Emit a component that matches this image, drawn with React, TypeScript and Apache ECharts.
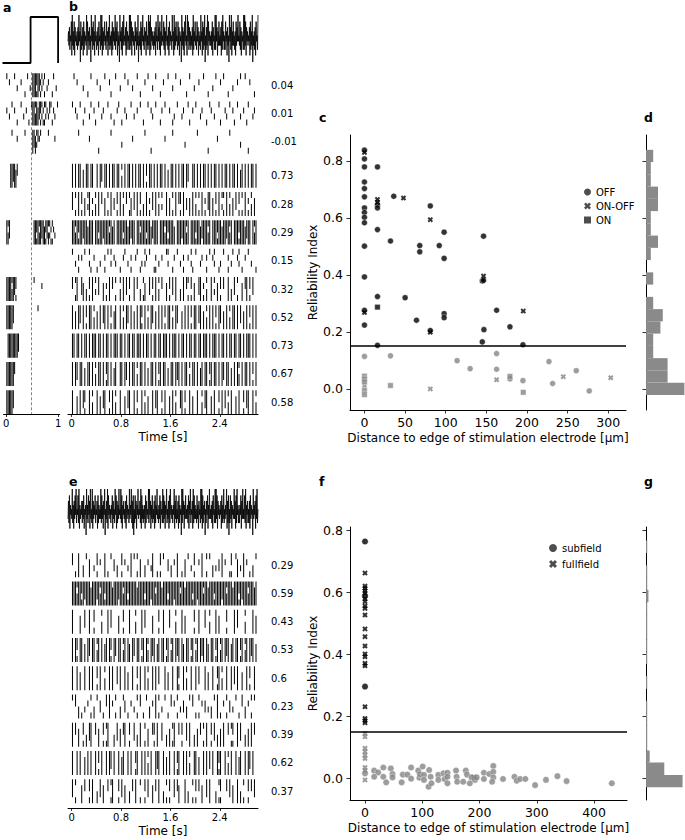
import React, { useEffect, useRef } from "react";
import * as echarts from "echarts";

const FONT = "DejaVu Sans";
const GREY = "#858585";
const HIST = "#8a8a8a";
const THRESH = 0.15;
const XPATH = "path://M0,2.6L2.6,0L5,2.4L7.4,0L10,2.6L7.6,5L10,7.4L7.4,10L5,7.6L2.6,10L0,7.4L2.4,5Z";

// ---------------- panel a: step stimulus ----------------
const stepTimes = [-0.05, 0.48, 0.48, 1.0, 1.0];
const stepLevels = [0, 0, 1, 1, 0];
const onsetTime = 0.48;

// ---------------- stimulus traces (digit 0..9 = amplitude level) ----------------
const traceLevels = [-1, -0.72, -0.48, -0.3, -0.12, 0.12, 0.3, 0.48, 0.72, 1];
const stimTraceB =
  "4637254819 3628174536 2739460825 3718264539 1846273509 4728361945 2637184529 3917264835 2846173925 3618274639 " +
  "2748163509 4627183945 3718264529 2938174635 1847263905 3628174935 2746183529 3819274635 2637184529 4728163945 " +
  "3827164935 2718364529 4619273845 2837164509 3726184935 1948273625 3719264835 2847163529 4618273905 2739184635 " +
  "3628174529 2947163835 3718294625 2846173509 4729163835 2618374945 3827164529 2938174635 4718263905 3627184529";
const stimTraceE =
  "3728164539 2617384925 4829163547 2738154609 3628471935 2917364825 4718263539 2836174905 3729184635 2648173529 " +
  "4817263945 3928164735 2718364529 3649271805 2837164935 4729183625 3618274539 2947163825 3718264935 2638174529 " +
  "2837164925 3718294635 2649173825 3718264509 2947163835 3628174925 4719283635 2836174529 3918264705 2748163935 " +
  "3627184529 2938174635 4718263925 3649172805 2837164539 3718294625 2648173935 3829164725 2718364509 3647183925";

// ---------------- raster rows (hex digit per bin = trials with a spike, 4 trials) ----------------
const rasterRowsA = [
  "1020001040 0200801040 fffbf7a529 0420081040",
  "2040102080 0104020801 ffdfe7b5a9 5243182401",
  "0000100020 0000100000 f7e5321000 0010000200",
  "000ff7fe30 0000000000 0000000000 0000000000",
  "0000000000 0000000000 0000000000 0000000000",
  "fd70000000 0000000000 0ffbfdf7fe b7d5a92400",
  "0000000000 0000000000 0000000000 0000000000",
  "ffffdf7b00 0000000000 0100000200 0000000000",
  "fffff70000 0000000000 0000100000 0000000000",
  "0ffffffff7 0000000000 0000000000 0000000000",
  "ffffff3000 0000000000 0000000000 0000000000",
  "fffff70000 0000000000 0000000000 0000000000",
];

const reliabilityB = ["0.04", "0.01", "-0.01", "0.73", "0.28", "0.29", "0.15", "0.32", "0.52", "0.73", "0.67", "0.58"];
const rasterRowsB = [
  "0102000400 8010002040 0100280010 0400102004 0010800201 0040100802 0010040100 2000801004 0020010080 0401002010 0800400201 0010020080",
  "1024010820 0410280104 2001040802 1080240010 4020108001 0240100820 1002084010 0420018020 1004200801 2040018002 4010280104 0208100420",
  "0000100000 0200000800 0000010000 0040000002 0000000100 0800000000 2000010000 0004000000 0100000080 0000200000 0010000004 0000800000",
  "f0f0ff0e0f f0ff00f0f7 0ff0f0ff0f f0d0f0ff0f 0f0ff0f0b0 ff0f0f0ff0 f0e0ff0f0f 0ff0f700ff 0f0f0ff0f0 f0ff0f0f0f f0f0ff0f0e f0f0f0ff0f",
  "7090f0b0e0 5f0a0d0f03 0e090f060b 0f0d0309e0 70f0b0c0f0 a070f0d050 0f0e090f03 b0f060e0f0 d090f0a07f 0e0b0f0590 f0d0e070b0 90f0a0d0e0",
  "ffdfbff7ff efff0ffbff 7fffdfef0f fffbffef7f f0ffdfffbf fe7fff0fff dfbfffe0ff f7ffdf0fff bffe7fffdf 0fffbffeff 7fdf0fffbf ffe7ff0fdf",
  "1040a02010 0580208040 0a01050240 08021040a0 0210840520 1008a04020 0150082010 40a0020580 1004200a01 0250084010 0a04100250 8020104008",
  "309f007e0c 0b0f050700 e0a0f03090 0d0f070b00 f030c09e00 70b0f0d030 0e0b070f00 c0f0390b0e 007f0a0d00 f050e0b030 0f0c070900 e03f0b0700",
  "f0e0f70f0b 0ff0d0e0f0 7f0f0b0ef0 0f0d0f70f0 e0f0fb0f0d 0f70e0f0f0 b0ff0d0f70 0e0f0f0b0f f07f0e0d0f 0f0b0f70e0 f0d0ff0f07 0e0f0b0f0f",
  "ff0ff0f0ff 0f0fff0ff0 f0ff0f0fff 0ff0f0ff0f f0fff0f0ff 0f0ff0ff0f ff0f0fff0f 0ff0f0ff0f f0ff0fff0f 0fff0f0ff0 f0ff0ff0ff 0f0fff0f0f",
  "f0f70ff0e0 ff0f0d0ff0 f0bf0f0ef0 0ff0f70f0f f0d0ff0f0e 0ff0f0bf0f f0e0ff0f7f 0f0ff0d0ff 0f0ef0ff0b f0ff0f0f70 ff0e0f0fd0 f0ff0f0b0f",
  "f00e0f07b0 0f0d00f0e0 7f00b0f0d0 0f00e07f00 f0b00f0d0e 00f07f00b0 f00e0f0d00 7f0b00f0e0 0f00d07f00 e0f00b0f07 0d0f00e0f0 0b07f00f0d",
];

const reliabilityE = ["0.29", "0.59", "0.43", "0.53", "0.6", "0.23", "0.39", "0.62", "0.37"];
const rasterRowsE = [
  "3080f00c01 0e0040b020 0f0801060c 00b02040f0 1090e00c02 04f0080b01 0060c020f0 080e01040b 0020f00901 0c04060f02 008b001e04 0f02080c01",
  "fffdffbf7f ffefff7fdf fbffffefff 7ffdffbfff ffeffffbff f7ffdfffef ffbfff7fff dffeffffbf f7fffdffef ffbffff7ff dfffefffbf 7fffdfffef",
  "f0000e0070 0f00b0000d 000f070000 e00b000f00 0d000f0700 00e000b00f 0007000d00 0f0e00000b 00f000700d 000f0e0000 b0000f0700 00d0000f0e",
  "f0fb0ff0e0 f70ff0df0f 0ef0fb0f70 ff0df0fe0f 70ff0bf0fd 0f7f0ef0ff 0bf0df0f7f 0fe0ff0bf0 df0f7f0fe0 ff0bf0df0f 7f0ef0ff0b f0df0f7f0e",
  "f00f0e00f0 0f0f00b0f0 0d00f0f007 0f00f0e00f 00b0f00f0d 00f0f07000 f0e00f00fb 00f0d00f00 f07000f0e0 0f00bf0d00 f00f070f00 e00f0b00f0",
  "1030c08040 2090c01060 8030f02090 0c01608020 4090308010 c020f09040 1080302090 4060c01030 8090206040 c010f08020 9060401080 30c0209010",
  "f030e00b0c 07f0030e00 b09f000c07 0e03f00b00 70c0f0090e 003b0f0070 0c0e09f003 0b0070f00c 0e03090f00 b070c0e0f0 0309b00f07 00c0e0f030",
  "f00f0f00e0 f0f00f0b0f 00f0f70f00 f0ef00f0f0 0bf00f0f0d 0f00f7f00f 0e0f00f0bf 00f0f0d00f f0e00f0f07 0f00fbf00f 0d0f00f0ef 00f0f70f00",
  "709000e030 0b0f00c070 e00309f000 b070e00c03 0f00900b07 00e030f00c 090b00703e 000f0c0090 b030e0070f 000c09b000 3070e00f0c 0900b03070",
];

// ---------------- panel c scatter (distance um, reliability) ----------------
const offPoints = [
  [0, 0.838], [0, 0.807], [0, 0.779], [0, 0.726], [0, 0.703], [0, 0.674], [0, 0.635], [0, 0.619], [0, 0.602], [0, 0.583],
  [0, 0.501], [0, 0.393], [0, 0.276], [0, 0.224], [0, 0.114],
  [16, 0.779], [16, 0.646], [16, 0.635], [16, 0.559], [16, 0.324], [16, 0.153],
  [32, 0.519], [32, 0.116], [36, 0.676], [50, 0.32], [64, 0.241], [68, 0.503], [68, 0.481],
  [81, 0.642], [81, 0.205], [92, 0.503], [98, 0.55], [98, 0.458], [98, 0.264], [98, 0.25],
  [114, 0.099], [130, 0.071], [145, 0.379], [145, 0.165], [146.5, 0.536], [146.5, 0.381], [147, 0.208],
  [162.6, 0.276], [162.6, 0.124], [162.6, 0.069], [179, 0.218], [179, 0.035], [195, 0.155], [195, 0.029],
  [227, 0.096], [231.5, 0.019], [260.6, 0.064], [276.6, -0.007],
];
const onOffPoints = [
  [0, 0.83], [0, 0.268], [16, 0.665], [16, 0.655], [48, 0.67], [81, 0.594], [81, 0.199], [146.5, 0.396], [195.4, 0.273],
  [0, 0.011], [81, 0.0], [162.6, 0.032], [244.6, 0.043], [303, 0.039],
];
const onPoints = [
  [16, 0.287], [0, 0.045], [0, 0.035], [0, 0.025], [0, -0.005], [0, -0.02], [32, 0.012], [179, 0.044], [195.4, -0.012],
];

// ---------------- panel d histogram ----------------
const histDEdges = [-0.021, 0.022, 0.065, 0.108, 0.151, 0.194, 0.237, 0.28, 0.323, 0.366, 0.409, 0.452, 0.495, 0.538, 0.581, 0.624, 0.667, 0.71, 0.753, 0.796, 0.839];
const histDCounts = [16, 9, 9, 3, 3, 6, 7, 3, 0, 3, 0, 2, 5, 2, 2, 5, 5, 2, 2, 3];

// ---------------- panel f scatter ----------------
const subfieldPoints = [
  [0, 0.763], [0, 0.587], [0, 0.295], [0, 0.015],
  [16, 0.024], [23, 0.018], [16, 0.004], [32, 0.034], [32, 0.004], [37, -0.014], [45, 0.031], [48, 0.013], [48, 0.002],
  [64, -0.014], [66, 0.011], [74, 0.011], [80.5, 0.034], [80.5, -0.002], [93, 0.024], [95, 0.001], [96, 0.012],
  [100.7, 0.037], [103, 0.01], [103, -0.006], [112, 0.026], [111, -0.028], [114.6, 0.004], [116, -0.017],
  [128, 0.01], [128, -0.006], [137, 0.015], [139, -0.003], [144, 0.017], [144, 0.004], [144, -0.017],
  [159, 0.024], [160, 0.004], [161, -0.012], [171.5, -0.012], [176, 0.024], [178, 0.011], [183, -0.017], [186, 0.002],
  [192, -0.006], [195, 0.002], [207.6, 0.017], [207.6, -0.003], [217, 0.013], [224, 0.039], [224, 0.02], [224, 0.002],
  [222, -0.012], [241, -0.003], [261, 0.004], [265, -0.009], [271, -0.003], [280, -0.003], [297, -0.023],
  [316, -0.006], [336, 0.006], [352, -0.01], [431, -0.017],
];
const fullfieldPoints = [
  [0, 0.661], [0, 0.619], [0, 0.612], [0, 0.604], [0, 0.596], [0, 0.578], [0, 0.569], [0, 0.555], [0, 0.547], [0, 0.526],
  [0, 0.481], [0, 0.456], [0, 0.426], [0, 0.4], [0, 0.391], [0, 0.37], [0, 0.362], [0, 0.23], [0, 0.192], [0, 0.185], [0, 0.178],
  [0, 0.144], [0, 0.133], [0, 0.096], [0, 0.085], [0, 0.074], [0, 0.063], [0, 0.034], [0, 0.024], [0, -0.006], [190, 0.003],
];

// ---------------- panel g histogram ----------------
const histGEdges = [-0.03, 0.01, 0.05, 0.089, 0.129, 0.169, 0.209, 0.249, 0.288, 0.328, 0.368, 0.408, 0.447, 0.487, 0.527, 0.567, 0.607, 0.646, 0.686, 0.726, 0.766];
const histGCounts = [30, 15, 3, 1, 1, 1, 1, 0, 1, 0, 1, 1, 1, 1, 1, 2, 1, 1, 0, 1];

// ---------------- helpers ----------------
const clean = (s: string) => s.replace(/\s/g, "");
const ROW_H = 0.85;
const LANE = ROW_H / 4;
const rowTopB = (i: number) => i + (i >= 3 ? 0.2 : 0) + 0.03;
const rowTopE = (i: number) => i + 0.03;

function rasterItems(rows: string[], dt: number, rowTop: (i: number) => number) {
  const items: number[][] = [];
  rows.forEach((raw, i) => {
    const s = clean(raw);
    const top = rowTop(i);
    for (let b = 0; b < s.length; b++) {
      const m = parseInt(s[b], 16);
      if (!m) continue;
      const t = (b + 0.5) * dt;
      let lane = 0;
      while (lane < 4) {
        if (m & (1 << lane)) {
          let end = lane;
          while (end + 1 < 4 && m & (1 << (end + 1))) end++;
          items.push([t, top + lane * LANE, top + (end + 1) * LANE]);
          lane = end + 1;
        } else lane++;
      }
    }
  });
  return items;
}

function traceItems(str: string) {
  const s = clean(str);
  const n = s.length;
  return Array.from(s).map((c, i) => [(i * 3) / (n - 1), traceLevels[Number(c)]]);
}

function histItems(edges: number[], counts: number[]) {
  return counts.map((c, i) => [edges[i], edges[i + 1], c]);
}

const rasterRender = (params: any, api: any) => {
  const a = api.coord([api.value(0), api.value(1)]);
  const b = api.coord([api.value(0), api.value(2)]);
  return {
    type: "rect",
    shape: { x: a[0] - 0.5, y: Math.min(a[1], b[1]), width: 1, height: Math.abs(b[1] - a[1]) },
    style: { fill: "#000" },
  };
};

const histRender = (params: any, api: any) => {
  const lo = api.value(0), hi = api.value(1), v = api.value(2);
  if (!v) return null;
  const p0 = api.coord([0, hi]);
  const p1 = api.coord([v, lo]);
  return {
    type: "rect",
    shape: { x: p0[0], y: p0[1], width: p1[0] - p0[0], height: p1[1] - p0[1] },
    style: { fill: HIST },
  };
};

const hiddenAxis = (min: number, max: number, extra: any = {}) => ({
  type: "value", min, max, show: false, ...extra,
});

const lineStyleAxis = { show: true, onZero: false, lineStyle: { color: "#000", width: 1 } };
const tickStyle = (vals: number[], len = 3.5) => ({
  show: true, length: len, customValues: vals, lineStyle: { color: "#000", width: 0.8 },
});

export default function App() {
  const ref = useRef<HTMLDivElement>(null);
  useEffect(() => {
    if (!ref.current) return;
    const chart = echarts.init(ref.current, undefined, { renderer: "svg" });

    const B_TMIN = -0.06, B_TMAX = 3.02;
    const A_TMIN = -0.05, A_TMAX = 1.03;
    const B_YMAX = 12.07, E_YMAX = 9.05;

    const grids = [
      { left: 2.5, top: 17, width: 57.2, height: 46 },      // 0 a step
      { left: 2.5, top: 72.3, width: 57.2, height: 341.7 }, // 1 a raster
      { left: 68, top: 15, width: 190, height: 47 },        // 2 b stim
      { left: 68, top: 72.3, width: 190, height: 341.7 },   // 3 b raster
      { left: 350, top: 135, width: 276, height: 275 },     // 4 c
      { left: 646, top: 135, width: 39, height: 275 },      // 5 d
      { left: 68, top: 489, width: 190, height: 46 },       // 6 e stim
      { left: 68, top: 552.3, width: 190, height: 255.7 },  // 7 e raster
      { left: 350, top: 527, width: 277, height: 273 },     // 8 f
      { left: 646, top: 527, width: 39, height: 273 },      // 9 g
    ];

    const timeTicks = [0, 0.8, 1.6, 2.4];
    const relTicks = [0, 0.2, 0.4, 0.6, 0.8];
    const smallLabel = { color: "#000", fontFamily: FONT, fontSize: 10, margin: 4 };
    const bigLabel = { color: "#000", fontFamily: FONT, fontSize: 12.5 };
    const nameStyle = { color: "#000", fontFamily: FONT, fontSize: 12 };

    const timeXAxis = (grid: number) => ({
      type: "value", gridIndex: grid, min: B_TMIN, max: B_TMAX,
      axisLine: lineStyleAxis, splitLine: { show: false },
      axisTick: tickStyle(timeTicks, 3),
      axisLabel: { ...smallLabel, customValues: timeTicks, formatter: (v: number) => (v === 0 ? "0" : String(v)) },
      name: "Time [s]", nameLocation: "middle", nameGap: 17, nameTextStyle: nameStyle,
    });

    const xAxes: any[] = [
      hiddenAxis(A_TMIN, A_TMAX, { gridIndex: 0 }),
      {
        type: "value", gridIndex: 1, min: A_TMIN, max: A_TMAX,
        axisLine: lineStyleAxis, splitLine: { show: false },
        axisTick: tickStyle([0, 1], 3),
        axisLabel: { ...smallLabel, customValues: [0, 1], formatter: (v: number) => String(v) },
      },
      hiddenAxis(0, 3, { gridIndex: 2 }),
      timeXAxis(3),
      {
        type: "value", gridIndex: 4, min: -17.8, max: 321.8,
        axisLine: lineStyleAxis, splitLine: { show: false },
        axisTick: tickStyle([0, 50, 100, 150, 200, 250, 300]),
        axisLabel: { ...bigLabel, margin: 6, customValues: [0, 50, 100, 150, 200, 250, 300], formatter: (v: number) => String(v) },
        name: "Distance to edge of stimulation electrode [μm]", nameLocation: "middle", nameGap: 22, nameTextStyle: nameStyle,
      },
      hiddenAxis(0, 16.25, { gridIndex: 5 }),
      hiddenAxis(0, 3, { gridIndex: 6 }),
      timeXAxis(7),
      {
        type: "value", gridIndex: 8, min: -26.2, max: 457.5,
        axisLine: lineStyleAxis, splitLine: { show: false },
        axisTick: tickStyle([0, 100, 200, 300, 400]),
        axisLabel: { ...bigLabel, margin: 6, customValues: [0, 100, 200, 300, 400], formatter: (v: number) => String(v) },
        name: "Distance to edge of stimulation electrode [μm]", nameLocation: "middle", nameGap: 22, nameTextStyle: nameStyle,
      },
      hiddenAxis(0, 32, { gridIndex: 9 }),
    ];

    const relYAxis = (grid: number, min: number, max: number) => ({
      type: "value", gridIndex: grid, min, max,
      axisLine: lineStyleAxis, splitLine: { show: false },
      axisTick: tickStyle(relTicks),
      axisLabel: { ...bigLabel, margin: 7, customValues: relTicks, formatter: (v: number) => v.toFixed(1) },
      name: "Reliability Index", nameLocation: "middle", nameGap: 31, nameRotate: 90, nameTextStyle: nameStyle,
    });
    const histYAxis = (grid: number, min: number, max: number) => ({
      type: "value", gridIndex: grid, min, max,
      axisLine: lineStyleAxis, splitLine: { show: false },
      axisTick: tickStyle(relTicks),
      axisLabel: { show: false },
    });

    const yAxes: any[] = [
      hiddenAxis(0, 1, { gridIndex: 0 }),
      hiddenAxis(0, B_YMAX, { gridIndex: 1, inverse: true }),
      hiddenAxis(-1, 1, { gridIndex: 2 }),
      hiddenAxis(0, B_YMAX, { gridIndex: 3, inverse: true }),
      relYAxis(4, -0.074, 0.891),
      histYAxis(5, -0.074, 0.891),
      hiddenAxis(-1, 1, { gridIndex: 6 }),
      hiddenAxis(0, E_YMAX, { gridIndex: 7, inverse: true }),
      relYAxis(8, -0.0709, 0.8097),
      histYAxis(9, -0.0709, 0.8097),
    ];

    const colorByThresh = (p: any) => (p.value[1] >= THRESH ? "#000" : GREY);
    const threshLine = {
      silent: true, symbol: ["none", "none"], label: { show: false },
      lineStyle: { color: "#000", width: 1.5, type: "solid" },
      data: [{ yAxis: THRESH }],
    };

    const labelSeries = (grid: number, labels: string[], rowTop: (i: number) => number) => ({
      type: "custom", xAxisIndex: grid, yAxisIndex: grid, silent: true, clip: false,
      data: labels.map((_, i) => [B_TMAX, rowTop(i) + ROW_H / 2]),
      encode: { x: 0, y: 1 },
      renderItem: (params: any, api: any) => {
        const p = api.coord([api.value(0), api.value(1)]);
        return {
          type: "text",
          style: {
            x: p[0] + 13, y: p[1], text: labels[params.dataIndex],
            fill: "#000", font: `10px '${FONT}'`, align: "left", verticalAlign: "middle",
          },
        };
      },
    });

    const series: any[] = [
      // a step
      {
        type: "line", xAxisIndex: 0, yAxisIndex: 0, showSymbol: false, silent: true,
        data: stepTimes.map((t, i) => [t, stepLevels[i]]),
        lineStyle: { color: "#000", width: 1.8 },
      },
      // a raster
      {
        type: "custom", xAxisIndex: 1, yAxisIndex: 1, silent: true,
        data: rasterItems(rasterRowsA, 0.025, rowTopB), encode: { x: 0, y: [1, 2] },
        renderItem: rasterRender,
        markLine: {
          silent: true, symbol: ["none", "none"], label: { show: false },
          lineStyle: { color: "#e03030", width: 0.8, type: [3, 2] },
          data: [{ xAxis: onsetTime }],
        },
      },
      // b stim
      {
        type: "line", xAxisIndex: 2, yAxisIndex: 2, showSymbol: false, silent: true,
        data: traceItems(stimTraceB), lineStyle: { color: "#000", width: 0.8 },
      },
      // b raster
      {
        type: "custom", xAxisIndex: 3, yAxisIndex: 3, silent: true,
        data: rasterItems(rasterRowsB, 0.025, rowTopB), encode: { x: 0, y: [1, 2] },
        renderItem: rasterRender,
      },
      labelSeries(3, reliabilityB, rowTopB),
      // c scatter
      {
        name: "OFF", type: "scatter", xAxisIndex: 4, yAxisIndex: 4, symbol: "circle", symbolSize: 6,
        data: offPoints, itemStyle: { color: colorByThresh, borderColor: "#fff", borderWidth: 0.5 },
        markLine: threshLine,
      },
      {
        name: "ON-OFF", type: "scatter", xAxisIndex: 4, yAxisIndex: 4, symbol: XPATH, symbolSize: 5.5,
        data: onOffPoints, itemStyle: { color: colorByThresh, borderWidth: 0 },
      },
      {
        name: "ON", type: "scatter", xAxisIndex: 4, yAxisIndex: 4, symbol: "rect", symbolSize: 5.5,
        data: onPoints, itemStyle: { color: colorByThresh, borderColor: "#fff", borderWidth: 0.5 },
      },
      // d hist
      {
        type: "custom", xAxisIndex: 5, yAxisIndex: 5, silent: true,
        data: histItems(histDEdges, histDCounts), encode: { x: 2, y: [0, 1] },
        renderItem: histRender,
      },
      // e stim
      {
        type: "line", xAxisIndex: 6, yAxisIndex: 6, showSymbol: false, silent: true,
        data: traceItems(stimTraceE), lineStyle: { color: "#000", width: 0.8 },
      },
      // e raster
      {
        type: "custom", xAxisIndex: 7, yAxisIndex: 7, silent: true,
        data: rasterItems(rasterRowsE, 0.025, rowTopE), encode: { x: 0, y: [1, 2] },
        renderItem: rasterRender,
      },
      labelSeries(7, reliabilityE, rowTopE),
      // f scatter
      {
        name: "subfield", type: "scatter", xAxisIndex: 8, yAxisIndex: 8, symbol: "circle", symbolSize: 6.5,
        data: subfieldPoints, itemStyle: { color: colorByThresh, borderColor: "#fff", borderWidth: 0.5 },
        markLine: threshLine,
      },
      {
        name: "fullfield", type: "scatter", xAxisIndex: 8, yAxisIndex: 8, symbol: XPATH, symbolSize: 5.5,
        data: fullfieldPoints, itemStyle: { color: colorByThresh, borderWidth: 0 },
      },
      // g hist
      {
        type: "custom", xAxisIndex: 9, yAxisIndex: 9, silent: true,
        data: histItems(histGEdges, histGCounts), encode: { x: 2, y: [0, 1] },
        renderItem: histRender,
      },
    ];

    const legendText = { color: "#000", fontFamily: FONT, fontSize: 10 };
    const legendItem = (name: string, icon: string) => ({
      name, icon, itemStyle: { color: "#222", borderWidth: 0 },
    });
    const legends = [
      {
        left: 584, top: 187, orient: "vertical", padding: 0, itemGap: 4, itemWidth: 7, itemHeight: 7,
        selectedMode: false, textStyle: legendText,
        data: [legendItem("OFF", "circle"), legendItem("ON-OFF", XPATH), legendItem("ON", "rect")],
      },
      {
        left: 549, top: 543, orient: "vertical", padding: 0, itemGap: 6, itemWidth: 8, itemHeight: 8,
        selectedMode: false, textStyle: legendText,
        data: [legendItem("subfield", "circle"), legendItem("fullfield", XPATH)],
      },
    ];

    const letter = (text: string, x: number, y: number) => ({
      type: "text", x, y,
      style: { text, fill: "#000", font: `bold 12.5px '${FONT}'`, align: "left", verticalAlign: "top" },
    });

    chart.setOption({
      animation: false,
      backgroundColor: "#fff",
      grid: grids,
      xAxis: xAxes,
      yAxis: yAxes,
      series,
      legend: legends,
      graphic: [
        letter("a", 3, 1),
        letter("b", 69, 0),
        letter("c", 319, 111),
        letter("d", 644, 111),
        letter("e", 69, 475),
        letter("f", 319, 475),
        letter("g", 644, 475),
      ],
    });
    return () => chart.dispose();
  }, []);

  return (
    <div
      ref={ref}
      style={{ position: "fixed", left: 0, top: 0, width: 685, height: 840, background: "#fff" }}
    />
  );
}
